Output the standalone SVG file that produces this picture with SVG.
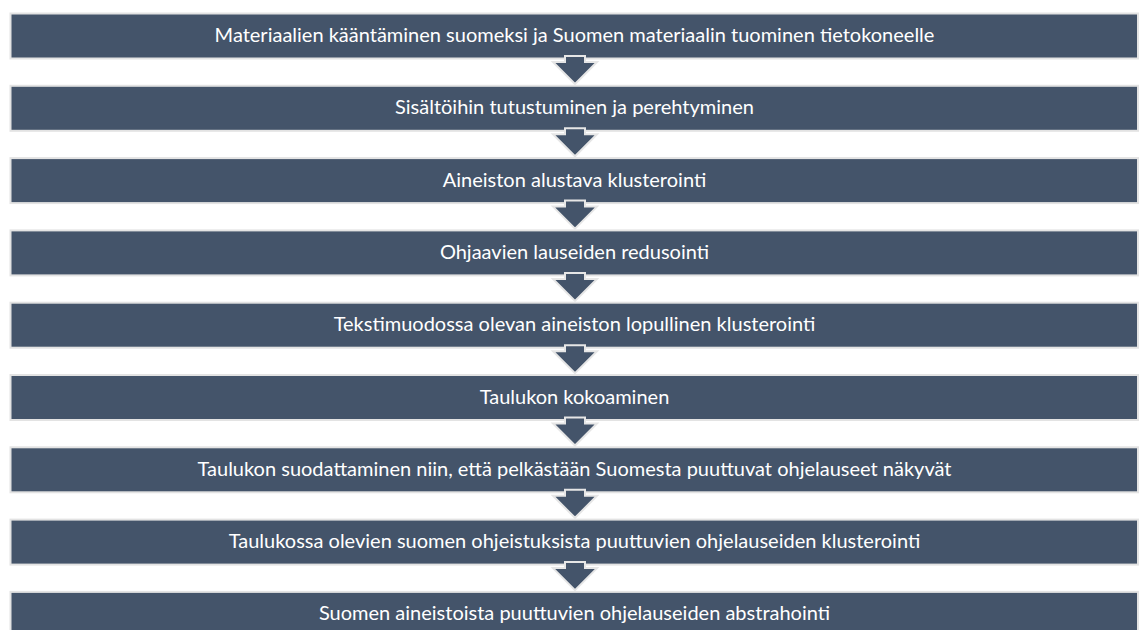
<svg xmlns="http://www.w3.org/2000/svg" width="1139" height="630" viewBox="0 0 1139 630">
<style>
.box{fill:#44546A;stroke:#E3E3E3;stroke-width:2}
.lbl{fill:#FFFFFF;font-family:Lato,"Open Sans","Liberation Sans",sans-serif;font-size:20px;text-anchor:middle}
.arr{fill:#44546A;stroke:#E6E6E6;stroke-width:2;stroke-linejoin:miter}
</style>
<defs>
<path id="arrow" d="M565,0 L585,0 L585,6 L597,6 L575,28 L553,6 L565,6 Z"/>
</defs>
<rect width="1139" height="630" fill="#FFFFFF"/>
<g id="n1"><rect class="box" x="10.5" y="13.5" width="1127.5" height="45"/><text class="lbl" x="574.5" y="42">Materiaalien kääntäminen suomeksi ja Suomen materiaalin tuominen tietokoneelle</text></g>
<g id="n2"><rect class="box" x="10.5" y="85.8" width="1127.5" height="45"/><text class="lbl" x="574.5" y="114.3">Sisältöihin tutustuminen ja perehtyminen</text></g>
<g id="n3"><rect class="box" x="10.5" y="158.1" width="1127.5" height="45"/><text class="lbl" x="574.5" y="186.6">Aineiston alustava klusterointi</text></g>
<g id="n4"><rect class="box" x="10.5" y="230.4" width="1127.5" height="45"/><text class="lbl" x="574.5" y="258.9">Ohjaavien lauseiden redusointi</text></g>
<g id="n5"><rect class="box" x="10.5" y="302.7" width="1127.5" height="45"/><text class="lbl" x="574.5" y="331.2">Tekstimuodossa olevan aineiston lopullinen klusterointi</text></g>
<g id="n6"><rect class="box" x="10.5" y="375" width="1127.5" height="45"/><text class="lbl" x="574.5" y="403.5">Taulukon kokoaminen</text></g>
<g id="n7"><rect class="box" x="10.5" y="447.3" width="1127.5" height="45"/><text class="lbl" x="574.5" y="475.8">Taulukon suodattaminen niin, että pelkästään Suomesta puuttuvat ohjelauseet näkyvät</text></g>
<g id="n8"><rect class="box" x="10.5" y="519.6" width="1127.5" height="45"/><text class="lbl" x="574.5" y="548.1">Taulukossa olevien suomen ohjeistuksista puuttuvien ohjelauseiden klusterointi</text></g>
<g id="n9"><rect class="box" x="10.5" y="591.9" width="1127.5" height="45"/><text class="lbl" x="574.5" y="620.4">Suomen aineistoista puuttuvien ohjelauseiden abstrahointi</text></g>
<g id="connectors">
<use href="#arrow" class="arr" y="56"/>
<use href="#arrow" class="arr" y="128.3"/>
<use href="#arrow" class="arr" y="200.6"/>
<use href="#arrow" class="arr" y="272.9"/>
<use href="#arrow" class="arr" y="345.2"/>
<use href="#arrow" class="arr" y="417.5"/>
<use href="#arrow" class="arr" y="489.8"/>
<use href="#arrow" class="arr" y="562.1"/>
</g>
</svg>
